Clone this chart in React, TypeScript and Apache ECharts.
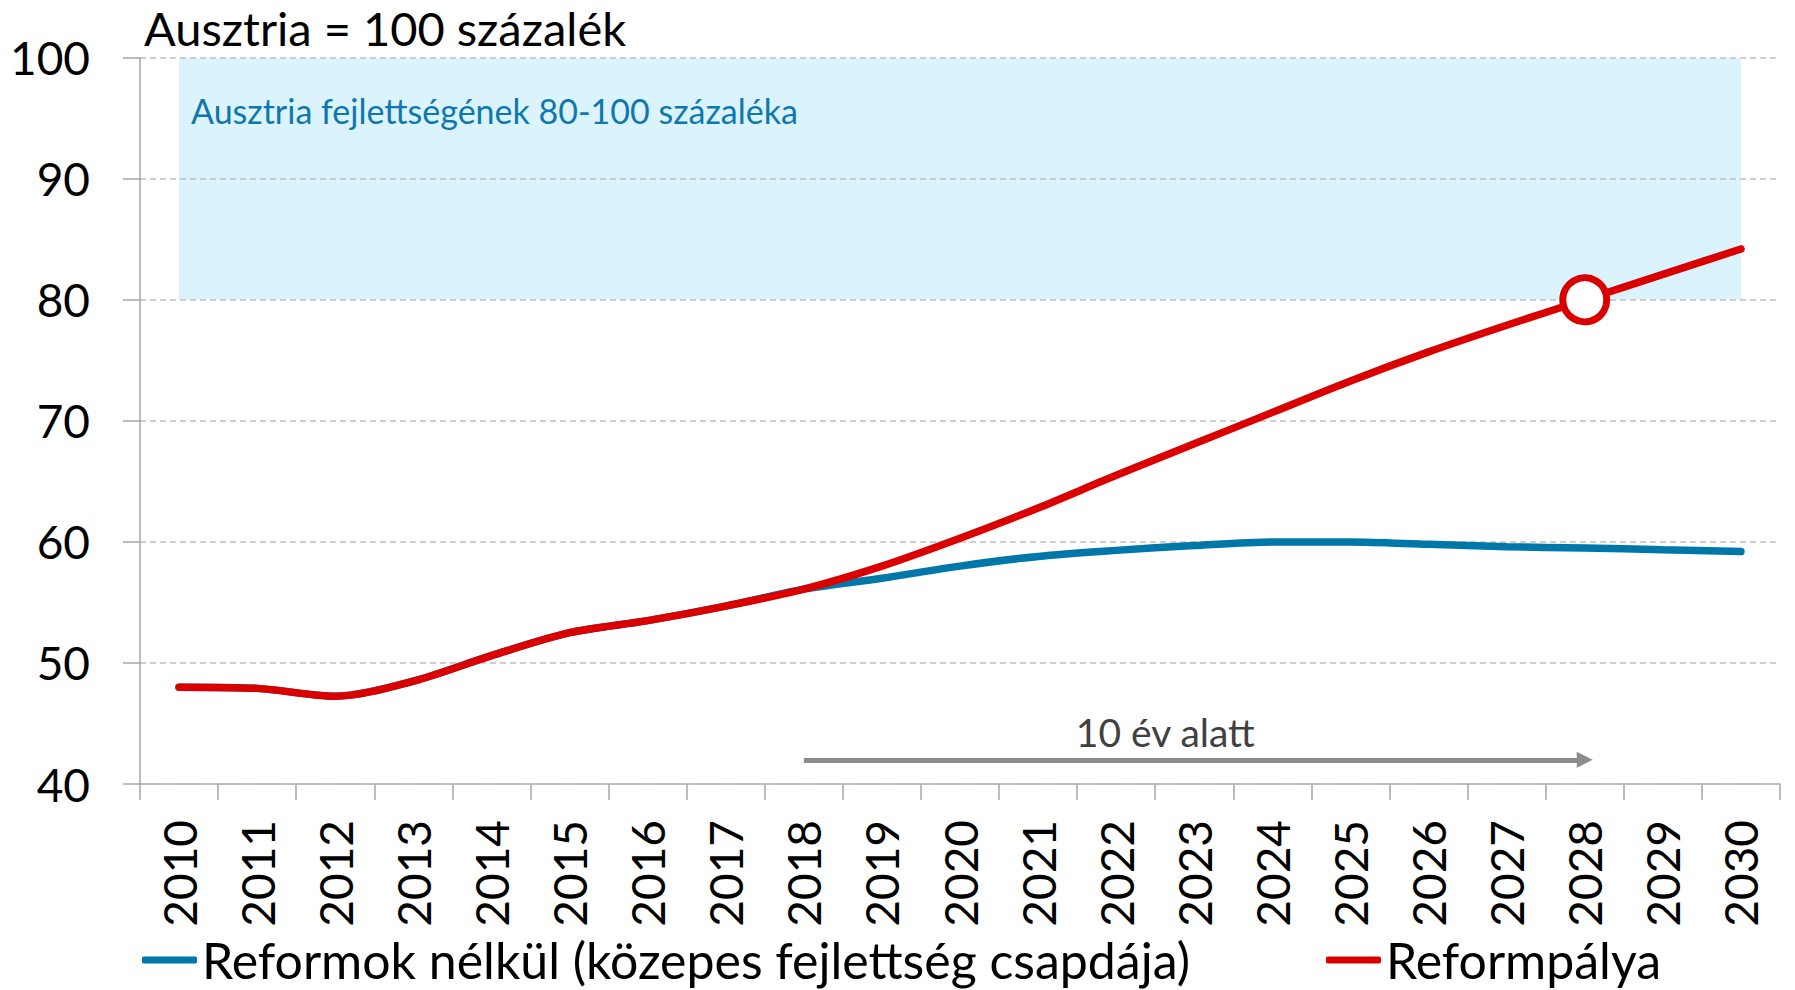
import React, { useEffect, useRef } from "react";
import * as echarts from "echarts";

const years = [
  "2010", "2011", "2012", "2013", "2014", "2015", "2016", "2017", "2018", "2019", "2020",
  "2021", "2022", "2023", "2024", "2025", "2026", "2027", "2028", "2029", "2030",
];
const reformokNelkul = [
  48.0, 47.9, 47.25, 48.5, 50.6, 52.5, 53.5, 54.7, 56.1, 57.0, 58.0,
  58.8, 59.3, 59.7, 60.0, 60.0, 59.8, 59.6, 59.5, 59.35, 59.2,
];
const reformpalya = [
  48.0, 47.9, 47.25, 48.5, 50.6, 52.5, 53.5, 54.7, 56.1, 58.0, 60.3,
  62.8, 65.5, 68.1, 70.7, 73.3, 75.7, 77.9, 80.0, 82.1, 84.2,
];
const yMin = 40;
const yMax = 100;
const yStep = 10;
const bandRange = [80, 100];
const targetYear = "2028";
const targetValue = 80;
const arrowFrom = "2018";
const arrowTo = "2028";
const arrowLevel = 42;

const seriesNames = ["Reformok nélkül (közepes fejlettség csapdája)", "Reformpálya"];
const titleText = "Ausztria = 100 százalék";
const bandText = "Ausztria fejlettségének 80-100 százaléka";
const arrowText = "10 év alatt";

const FONT = "Lato";
const BLUE = "#0077A9";
const RED = "#DA0000";
const AXIS_GRAY = "#A6A6A6";

export default function App() {
  const ref = useRef<HTMLDivElement>(null);
  useEffect(() => {
    document.body.style.margin = "0";
    const chart = echarts.init(ref.current!, null, { renderer: "svg" });
    chart.setOption({
      animation: false,
      backgroundColor: "#ffffff",
      textStyle: { fontFamily: FONT },
      grid: { left: 140, right: 15, top: 57.7, bottom: 206, containLabel: false },
      graphic: [
        {
          type: "text",
          x: 144,
          y: 7,
          style: {
            text: titleText,
            font: `47px ${FONT}`,
            lineHeight: 42,
            fill: "#000",
            verticalAlign: "top",
          },
        },
      ],
      legend: [
        {
          data: [seriesNames[0]],
          left: 137,
          top: 930,
          icon: "roundRect",
          itemWidth: 55,
          itemHeight: 7,
          textStyle: { fontSize: 50, fontFamily: FONT, color: "#000" },
        },
        {
          data: [seriesNames[1]],
          left: 1321,
          top: 930,
          icon: "roundRect",
          itemWidth: 55,
          itemHeight: 7,
          textStyle: { fontSize: 50, fontFamily: FONT, color: "#000" },
        },
      ],
      xAxis: {
        type: "category",
        data: years,
        boundaryGap: true,
        axisLine: { lineStyle: { color: AXIS_GRAY, width: 1.5 } },
        axisTick: { show: true, length: 16, lineStyle: { color: AXIS_GRAY, width: 1.5 } },
        axisLabel: { rotate: 90, margin: 36, fontSize: 46, fontFamily: FONT, color: "#000" },
      },
      yAxis: {
        type: "value",
        min: yMin,
        max: yMax,
        interval: yStep,
        z: 1.5,
        axisLine: { show: true, lineStyle: { color: AXIS_GRAY, width: 1.5 } },
        axisTick: { show: true, length: 17, lineStyle: { color: AXIS_GRAY, width: 1.5 } },
        axisLabel: { margin: 50, fontSize: 46, fontFamily: FONT, color: "#000" },
        splitLine: { show: true, lineStyle: { color: "#BFBFBF", width: 1.5, type: [6, 4] } },
      },
      series: [
        {
          name: seriesNames[0],
          type: "line",
          data: reformokNelkul,
          smooth: 0.3,
          symbol: "none",
          z: 2,
          lineStyle: { color: BLUE, width: 7.5, cap: "round" },
          itemStyle: { color: BLUE },
          markArea: {
            silent: true,
            z: 1,
            itemStyle: { color: "#DBF3FD" },
            label: {
              show: true,
              position: "insideTopLeft",
              offset: [7, 31],
              color: "#0E78AE",
              fontSize: 34,
              fontFamily: FONT,
            },
            data: [
              [
                { name: bandText, xAxis: years[0], yAxis: bandRange[0] },
                { xAxis: years[years.length - 1], yAxis: bandRange[1] },
              ],
            ],
          },
        },
        {
          name: seriesNames[1],
          type: "line",
          data: reformpalya,
          smooth: 0.3,
          symbol: "none",
          z: 3,
          lineStyle: { color: RED, width: 7.5, cap: "round" },
          itemStyle: { color: RED },
          markPoint: {
            silent: true,
            symbol: "circle",
            symbolSize: 44,
            itemStyle: { color: "#ffffff", borderColor: RED, borderWidth: 7 },
            label: { show: false },
            data: [{ coord: [targetYear, targetValue] }],
          },
          markLine: {
            silent: true,
            symbol: ["none", "triangle"],
            symbolSize: [16, 16],
            lineStyle: { color: "#8C8C8C", width: 5, type: "solid" },
            label: {
              show: true,
              position: "insideMiddleTop",
              formatter: arrowText,
              distance: 8,
              offset: [-29, 0],
              color: "#404040",
              fontSize: 39,
              fontFamily: FONT,
            },
            data: [[{ coord: [arrowFrom, arrowLevel] }, { coord: [arrowTo, arrowLevel] }]],
          },
        },
      ],
    });
    return () => chart.dispose();
  }, []);
  return <div ref={ref} style={{ width: 1795, height: 990 }} />;
}
